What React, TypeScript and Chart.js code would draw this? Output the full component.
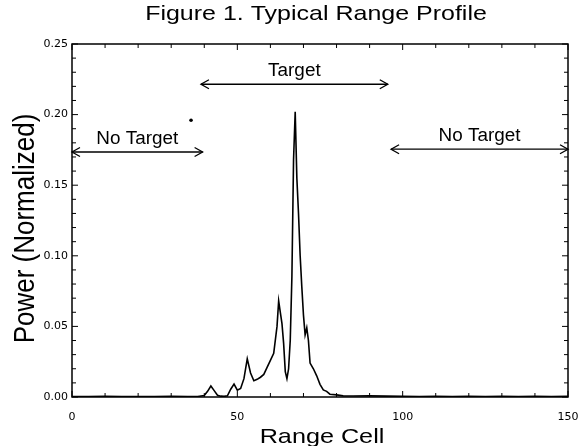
import React, { useEffect, useRef } from "react";
import { Chart, registerables } from "chart.js";

Chart.register(...registerables);

// ---- text ----
const TITLE = "Figure 1. Typical Range Profile";
const X_TITLE = "Range Cell";
const Y_TITLE = "Power (Normalized)";

// ---- data ----
const rangeCells = [
  0, 5, 10, 15, 20, 25, 30, 35, 38,
  40, 41, 42, 43, 44, 45, 46, 47, 48, 49, 50, 51, 52, 53, 54, 55, 56, 57, 58, 59, 60, 61,
  62, 62.5, 63, 63.5, 64, 64.5, 65, 65.5, 66, 66.5, 67, 67.5, 68, 68.5, 69, 69.5, 70, 70.5, 71, 71.5,
  72, 73, 74, 75, 76, 77, 78, 80, 82, 85,
  90, 95, 100, 105, 110, 115, 120, 125, 130, 135, 140, 145, 150,
];
const power = [
  0.0003, 0.0004, 0.0005, 0.0003, 0.0004, 0.0003, 0.0005, 0.0004, 0.0004,
  0.001, 0.004, 0.0078, 0.0045, 0.0012, 0.0006, 0.0005, 0.0008, 0.0055, 0.0092, 0.0048, 0.006, 0.013, 0.027, 0.017, 0.0115, 0.0125, 0.014, 0.016, 0.021, 0.026, 0.031,
  0.05, 0.068, 0.06, 0.052, 0.038, 0.018, 0.013, 0.02, 0.04, 0.085, 0.168, 0.202, 0.155, 0.13, 0.1, 0.078, 0.058, 0.044, 0.049, 0.04,
  0.024, 0.02, 0.015, 0.009, 0.005, 0.004, 0.002, 0.0015, 0.0008, 0.0007,
  0.0008, 0.0006, 0.0005, 0.0004, 0.0005, 0.0004, 0.0005, 0.0004, 0.0005, 0.0004, 0.0005, 0.0004, 0.0005,
];

// stray mark in the reference
const strayCell = [36];
const strayPower = [0.196];

// tick labels
const xTickValues = [0, 50, 100, 150];
const yTickValues = [0, 0.05, 0.1, 0.15, 0.2, 0.25];
const xMinorStep = 10;
const yMinorStep = 0.01;

// annotations (arrows with labels), in data units
const annotationLabels = ["No Target", "Target", "No Target"];
const annotationStart = [0, 39, 96.5];
const annotationEnd = [39.5, 95.5, 150];
const annotationLevel = [0.1735, 0.2215, 0.1755];

const FONT = '"Liberation Sans", Arial, sans-serif';

function stretchedText(
  ctx: CanvasRenderingContext2D,
  text: string,
  x: number,
  y: number,
  size: number,
  sx: number,
  rotate = 0
) {
  ctx.save();
  ctx.translate(x, y);
  ctx.scale(sx, 1);
  if (rotate) ctx.rotate(rotate);
  ctx.font = `${size}px ${FONT}`;
  ctx.textAlign = "center";
  ctx.textBaseline = "alphabetic";
  ctx.fillStyle = "#000";
  ctx.fillText(text, 0, 0);
  ctx.restore();
}

const decorations = {
  id: "decorations",
  afterDraw(chart: any) {
    const { ctx, chartArea: a, scales } = chart;
    const x = scales.x;
    const y = scales.y;
    ctx.save();
    ctx.strokeStyle = "#000";
    ctx.fillStyle = "#000";

    // frame
    ctx.lineWidth = 1.5;
    ctx.strokeRect(a.left, a.top, a.right - a.left, a.bottom - a.top);

    // inward ticks
    ctx.lineWidth = 1;
    const seg = (x0: number, y0: number, x1: number, y1: number) => {
      ctx.beginPath();
      ctx.moveTo(x0, y0);
      ctx.lineTo(x1, y1);
      ctx.stroke();
    };
    const xMax = x.max;
    for (let i = 0; i * xMinorStep <= xMax + 1e-9; i++) {
      const v = i * xMinorStep;
      const px = x.getPixelForValue(v);
      const len = v % 50 === 0 ? 6 : 4;
      seg(px, a.bottom, px, a.bottom - len);
      seg(px, a.top, px, a.top + len);
    }
    const nY = Math.round(y.max / yMinorStep);
    for (let i = 0; i <= nY; i++) {
      const py = y.getPixelForValue(i * yMinorStep);
      const len = i % 5 === 0 ? 6 : 4;
      seg(a.left, py, a.left + len, py);
      seg(a.right, py, a.right - len, py);
    }

    // annotation arrows
    ctx.lineWidth = 1.3;
    for (let i = 0; i < annotationLabels.length; i++) {
      const x0 = x.getPixelForValue(annotationStart[i]);
      const x1 = x.getPixelForValue(annotationEnd[i]);
      const py = y.getPixelForValue(annotationLevel[i]);
      seg(x0, py, x1, py);
      ctx.beginPath();
      ctx.moveTo(x0 + 8, py - 4.5);
      ctx.lineTo(x0, py);
      ctx.lineTo(x0 + 8, py + 4.5);
      ctx.stroke();
      ctx.beginPath();
      ctx.moveTo(x1 - 8, py - 4.5);
      ctx.lineTo(x1, py);
      ctx.lineTo(x1 - 8, py + 4.5);
      ctx.stroke();
      stretchedText(ctx, annotationLabels[i], (x0 + x1) / 2, py - 8, 18, 1.05);
    }

    // titles
    stretchedText(ctx, TITLE, 316, 20, 21, 1.19);
    stretchedText(ctx, X_TITLE, (a.left + a.right) / 2 + 2, 443, 21, 1.2);

    // y title (rotated, stretched horizontally on the page)
    ctx.translate(33.5, (a.top + a.bottom) / 2 + 8);
    ctx.scale(1.12, 1);
    ctx.rotate(-Math.PI / 2);
    ctx.font = `26px ${FONT}`;
    ctx.textAlign = "center";
    ctx.textBaseline = "alphabetic";
    ctx.fillStyle = "#000";
    ctx.fillText(Y_TITLE, 0, 0);
    ctx.restore();
  },
};

export default function App() {
  const ref = useRef<HTMLCanvasElement>(null);

  useEffect(() => {
    if (!ref.current) return;
    const profile = rangeCells.map((c, i) => ({ x: c, y: power[i] }));
    const stray = strayCell.map((c, i) => ({ x: c, y: strayPower[i] }));
    const chart = new Chart(ref.current, {
      type: "line",
      data: {
        datasets: [
          {
            data: profile,
            borderColor: "#000",
            borderWidth: 1.6,
            pointRadius: 0,
            tension: 0,
            fill: false,
          },
          {
            type: "scatter",
            data: stray,
            pointRadius: 1.8,
            pointBackgroundColor: "#000",
            pointBorderWidth: 0,
            showLine: false,
          } as any,
        ],
      },
      options: {
        responsive: false,
        animation: false,
        events: [],
        layout: { padding: { top: 44, right: 11, left: 0, bottom: 0 } },
        plugins: {
          legend: { display: false },
          tooltip: { enabled: false },
          title: { display: false },
        },
        scales: {
          x: {
            type: "linear",
            min: 0,
            max: 150,
            grid: { display: false, drawTicks: false },
            border: { display: false },
            afterBuildTicks: (s: any) => {
              s.ticks = xTickValues.map((v) => ({ value: v }));
            },
            afterFit: (s: any) => {
              s.height = 49;
              s.paddingLeft = 0;
              s.paddingRight = 0;
            },
            ticks: {
              color: "#000",
              padding: 14,
              maxRotation: 0,
              autoSkip: false,
              font: { family: '"DejaVu Sans"', size: 11 },
              callback: (v: any) => String(v),
            },
          },
          y: {
            type: "linear",
            min: 0,
            max: 0.25,
            grid: { display: false, drawTicks: false },
            border: { display: false },
            afterBuildTicks: (s: any) => {
              s.ticks = yTickValues.map((v) => ({ value: v }));
            },
            afterFit: (s: any) => {
              s.width = 72;
              s.paddingTop = 0;
              s.paddingBottom = 0;
            },
            ticks: {
              color: "#000",
              padding: 4,
              autoSkip: false,
              font: { family: '"DejaVu Sans"', size: 11 },
              callback: (v: any) => Number(v).toFixed(2),
            },
          },
        },
      },
      plugins: [decorations],
    });
    return () => chart.destroy();
  }, []);

  return (
    <div style={{ position: "absolute", left: 0, top: 0, width: 579, height: 446, background: "#fff" }}>
      <canvas ref={ref} width={579} height={446} style={{ display: "block", width: 579, height: 446 }} />
    </div>
  );
}
